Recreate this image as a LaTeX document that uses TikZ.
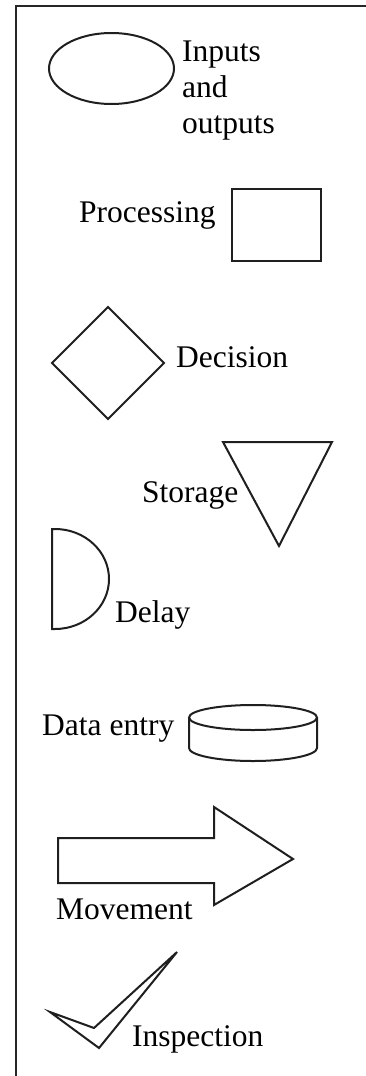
\documentclass[tikz,border=0pt]{standalone}
\usepackage{fontspec}
\setmainfont{Liberation Serif}
\begin{document}
\begin{tikzpicture}[x=1pt,y=-1pt,
  shapeline/.style={draw=black!88,line width=2pt},
  lbl/.style={anchor=base west,inner sep=0pt,font=\fontsize{31.5}{36}\selectfont}]
\useasboundingbox (0,0) rectangle (366,1076);
% frame
\draw[line width=1.5pt,black!85] (16,1076) -- (16,6) -- (366,6);
% inputs and outputs
\draw[shapeline] (111.5,68.5) ellipse[x radius=62.5,y radius=35.5];
\node[lbl] (io1) at (182,61) {Inputs};
\node[lbl] (io2) at (182,97) {and};
\node[lbl] (io3) at (182,133) {outputs};
% processing
\node[lbl] (proc) at (79,222) {Processing};
\draw[shapeline] (232,189) rectangle (321,261);
% decision
\draw[shapeline] (52,363) -- (108,307) -- (164,363) -- (108,419) -- cycle;
\node[lbl] (dec) at (176,367) {Decision};
% storage
\draw[shapeline] (223,442) -- (332,442) -- (279,546) -- cycle;
\node[lbl] (sto) at (142,502) {Storage};
% delay
\draw[shapeline] (55,629) -- (52,629) -- (52,529) -- (55,529)
  arc[start angle=-90,end angle=90,x radius=54,y radius=50];
\node[lbl] (del) at (115,622) {Delay};
% data entry
\draw[shapeline] (253,717.5) ellipse[x radius=64,y radius=12.5];
\draw[shapeline] (189,717.5) -- (189,748)
  arc[start angle=180,end angle=0,x radius=64,y radius=13] -- (317,717.5);
\node[lbl] (dat) at (42,735) {Data entry};
% movement
\draw[shapeline] (58,838) -- (214,838) -- (214,807) -- (293,859) -- (214,905) -- (214,883) -- (58,883) -- cycle;
\node[lbl] (mov) at (56,919) {Movement};
% inspection
\draw[shapeline,line join=miter] (50,1012) -- (94,1028) -- (177,952) -- (99,1048) -- cycle;
\node[lbl] (ins) at (132,1046) {Inspection};
\end{tikzpicture}
\end{document}
